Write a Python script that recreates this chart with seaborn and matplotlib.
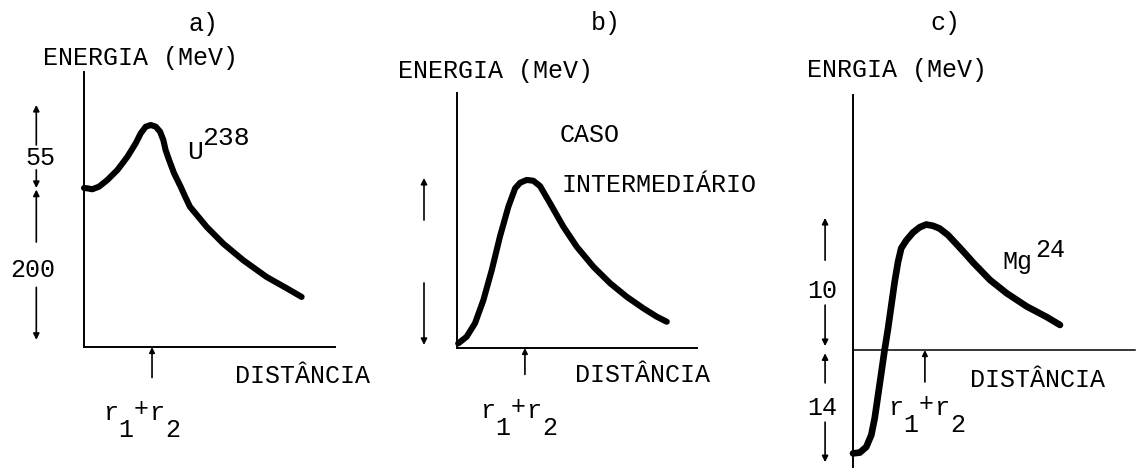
import numpy as np
import matplotlib
matplotlib.use("Agg")
import matplotlib.pyplot as plt
import matplotlib.transforms as mtransforms
import seaborn as sns

sns.set_theme(style="white")
plt.rcParams["font.family"] = ["Liberation Mono", "DejaVu Sans Mono"]

# ---- potential energy vs. separation of the two fragments ----
# a) U-238 (MeV)
dist_u = [0.0, 0.13, 0.33, 0.60, 0.93, 1.33, 1.73, 2.06, 2.26, 2.46, 2.66, 2.86,
          3.03, 3.16, 3.25, 3.39, 3.59, 3.85, 4.05, 4.22, 4.89, 5.55, 6.35,
          7.28, 8.07, 8.67]
energy_u = [200, 199.6, 198.4, 200.9, 205.3, 211.9, 220.7, 229.6, 236.2, 240.6,
            241.7, 240.6, 237.3, 231.8, 225.2, 218.5, 209.7, 200.9, 187.8, 176.5,
            151, 130, 109, 88, 74, 63]

# b) intermediate case (arbitrary energy units)
dist_mid = [0.05, 0.40, 0.75, 1.10, 1.45, 1.79, 2.14, 2.42, 2.63, 2.90, 3.18,
            3.46, 3.88, 4.43, 4.99, 5.68, 6.38, 7.07, 7.76, 8.32, 8.74]
energy_mid = [1.8, 4.4, 9.7, 18.8, 30.6, 43.7, 55.4, 62.6, 64.8, 65.9, 65.6,
              63.5, 56.7, 47.6, 39.7, 31.9, 25.4, 20.1, 15.6, 12.3, 10.3]

# c) Mg-24 (MeV)
dist_mg = [0.0, 0.24, 0.47, 0.65, 0.77, 0.89, 1.01, 1.12, 1.24, 1.36, 1.48,
           1.60, 1.71, 1.89, 2.13, 2.37, 2.60, 2.84, 3.07, 3.37, 3.72, 4.02,
           4.27, 4.86, 5.45, 6.16, 6.87, 7.34]
energy_mg = [-12.9, -12.8, -12.1, -10.6, -8.5, -5.6, -2.7, 0.0, 1.6, 3.4, 5.2,
             6.7, 7.7, 8.3, 8.9, 9.3, 9.5, 9.4, 9.2, 8.7, 7.9, 7.2,
             6.6, 5.3, 4.3, 3.3, 2.5, 1.9]

# contact distance r1+r2 and the energy intervals marked beside each axis
r12 = [2.71, 2.83, 2.55]
u_well, u_barrier = 200, 55
mid_top = 66.7
mg_barrier, mg_well = 10, 14

panel_titles = ["a)", "b)", "c)"]
ylabels = ["ENERGIA (MeV)", "ENERGIA (MeV)", "ENRGIA (MeV)"]
xlabel = "DISTÂNCIA"

W, H = 1136, 468
fig = plt.figure(figsize=(W / 100, H / 100), dpi=100)
fig.patch.set_facecolor("white")
px = mtransforms.Affine2D().scale(1 / W, -1 / H).translate(0, 1) + fig.transFigure

INK = "black"
FS = 18


def put(x, y, s, size=FS, ha="left"):
    fig.text(x, y, s, transform=px, fontsize=size, ha=ha, va="baseline", color=INK)


def contact_label(x0, base, adv=15.5):
    # typewriter-style r_1 + r_2 with full-size shifted characters
    for i, (ch, dy) in enumerate([("r", 0), ("1", 17), ("+", -4), ("r", 0), ("2", 17)]):
        put(x0 + i * adv, base + dy, ch)


def panel(left, top, right, bottom):
    ax = fig.add_axes([left / W, 1 - bottom / H, (right - left) / W, (bottom - top) / H])
    ax.patch.set_alpha(0)
    for side in ("top", "right"):
        ax.spines[side].set_visible(False)
    for side in ("left", "bottom"):
        ax.spines[side].set_color(INK)
        ax.spines[side].set_linewidth(1.4)
    ax.set_xticks([])
    ax.set_yticks([])
    ax.set_xlim(0, 10)
    return ax


def varrow(ax, x, y_from, y_to):
    ax.annotate("", xy=(x, y_to), xytext=(x, y_from),
                arrowprops=dict(arrowstyle="-|>", color=INK, lw=1.2,
                                mutation_scale=9, shrinkA=0, shrinkB=0),
                annotation_clip=False)


def contact_tick(ax, x, drop):
    ax.annotate("", xy=(x, 0), xytext=(0, -drop), textcoords="offset points",
                arrowprops=dict(arrowstyle="-|>", color=INK, lw=1.2,
                                mutation_scale=8, shrinkA=0, shrinkB=0),
                annotation_clip=False)


def curve(ax, x, y, lw=4.4):
    sns.lineplot(x=x, y=y, ax=ax, color=INK, linewidth=lw, sort=False,
                 estimator=None, solid_capstyle="round", solid_joinstyle="round",
                 clip_on=False)


# ---------------- a) ----------------
ax_a = panel(84, 72, 335, 347)
# schematic (not to scale) energy axis: the region above the well is stretched
ax_a.set_yscale("function", functions=(
    lambda e: np.where(e <= u_well, e, u_well + (e - u_well) * 1.9),
    lambda f: np.where(f <= u_well, f, u_well + (f - u_well) / 1.9)))
ax_a.set_ylim(0, 276.8)
ax_a.set_yticks([])
curve(ax_a, dist_u, energy_u)
xa = -1.9
varrow(ax_a, xa, 228.5, u_well + u_barrier)
varrow(ax_a, xa, 212, u_well)
varrow(ax_a, xa, 132, 198)
varrow(ax_a, xa, 75, 9)
contact_tick(ax_a, r12[0], 22)

# ---------------- b) ----------------
ax_b = panel(457, 93, 697, 348)
ax_b.set_ylim(0, 100)
curve(ax_b, dist_mid, energy_mid)
xb = -1.375
varrow(ax_b, xb, 50.2, mid_top)
varrow(ax_b, xb, 25.5, 1.2)
contact_tick(ax_b, r12[1], 19)

# ---------------- c) ----------------
ax_c = panel(853, 95, 1135, 467)
# schematic energy axis: the well below zero is compressed
ax_c.set_yscale("function", functions=(
    lambda e: np.where(e >= 0, e, e * 0.606),
    lambda f: np.where(f >= 0, f, f / 0.606)))
ax_c.set_ylim(-14.6, 19.3)
ax_c.set_yticks([])
ax_c.spines["bottom"].set_position(("data", 0))
ax_c.spines["bottom"].set_linewidth(1.1)
curve(ax_c, dist_mg, energy_mg, lw=4.8)
xc = -0.99
varrow(ax_c, xc, 6.8, mg_barrier)
varrow(ax_c, xc, 3.4, 0.3)
varrow(ax_c, xc, -4.1, -0.4)
varrow(ax_c, xc, -9.0, -mg_well)
contact_tick(ax_c, r12[2], 23)

# ---------------- text ----------------
put(204, 31, panel_titles[0], ha="center")
put(606, 30, panel_titles[1], ha="center")
put(945, 30, panel_titles[2], ha="center")

put(43, 65, ylabels[0])
put(398, 78, ylabels[1])
put(807, 77, ylabels[2])

put(235, 383, xlabel)
put(575, 382, xlabel)
put(970, 387, xlabel)

contact_label(103, 420)
contact_label(480, 418)
contact_label(888, 415)

# nucleus labels
put(187, 159, "U", size=19)
put(202, 145, "238", size=19)
put(1002, 269, "Mg")
put(1035, 257, "24")

# intermediate-case caption
put(560, 142, "CASO")
put(561, 192, "INTERMEDIÁRIO")

# interval values beside the energy axes
put(40, 165, str(u_barrier), ha="center")
put(33, 277, str(u_well), ha="center")
put(822, 298, str(mg_barrier), ha="center")
put(822, 415, str(mg_well), ha="center")

fig.savefig("out.png", dpi=100, facecolor="white")
